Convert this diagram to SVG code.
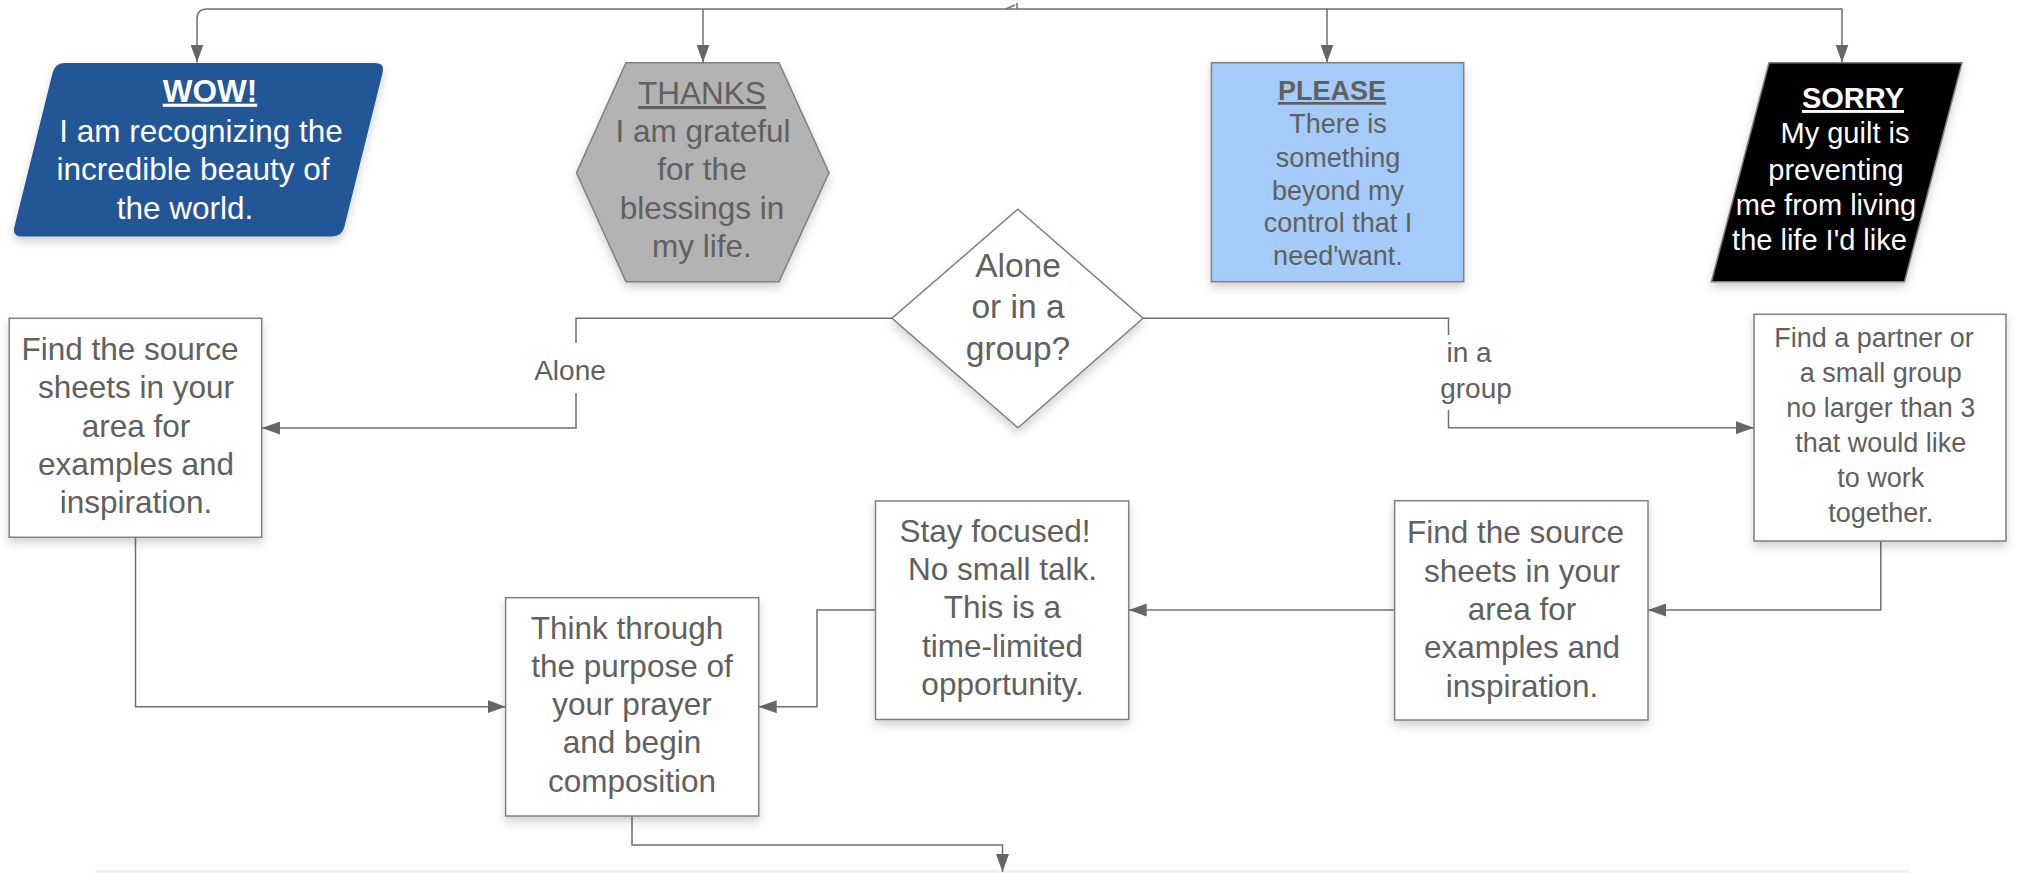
<svg xmlns="http://www.w3.org/2000/svg" width="2019" height="873" viewBox="0 0 2019 873">
<style>
  text { font-family: "Liberation Sans", Arial, sans-serif; text-anchor: middle; }
  .t { font-size: 31.5px; fill: #606060; }
  .w { font-size: 31.5px; fill: #ffffff; }
  .sm { font-size: 27px; fill: #606060; }
  .sw { font-size: 29px; fill: #ffffff; }
  .dia { font-size: 33.5px; fill: #606060; }
  .lbl { font-size: 28px; fill: #606060; }
  .b { font-weight: bold; text-decoration: underline; }
  .u { text-decoration: underline; }
  .box { fill: #ffffff; stroke: #7f7f7f; stroke-width: 1.5; }
  .conn { fill: none; stroke: #6f6f6f; stroke-width: 1.5; }
  .arr { fill: none; stroke: #6f6f6f; stroke-width: 1.5; marker-end: url(#ah); }
</style>
<defs>
  <marker id="ah" markerUnits="userSpaceOnUse" markerWidth="18" markerHeight="13" viewBox="0 0 18 13" refX="18" refY="6.5" orient="auto">
    <path d="M0,0 L18,6.5 L0,13 Z" fill="#666666"/>
  </marker>
  <filter id="sh" x="-20%" y="-20%" width="140%" height="150%">
    <feDropShadow dx="0" dy="5" stdDeviation="5" flood-color="#000" flood-opacity="0.18"/>
  </filter>
</defs>
<rect width="2019" height="873" fill="#ffffff"/>
<rect x="95" y="870" width="1815" height="3" fill="#f2f2f2"/>

<g id="connectors">
  <path class="conn" d="M1006,9 L1015,5 M1017,3 V9"/>
  <path class="arr" d="M1006,9 H207 Q197,9 197,19 V62.5"/>
  <path class="arr" d="M703,9 V62.5"/>
  <path class="arr" d="M1006,9 H1327 V62.5"/>
  <path class="arr" d="M1327,9 H1842 V62.5"/>
  <path class="conn" d="M892,318.3 H576 V343"/>
  <path class="arr" d="M576,393 V428 H262"/>
  <text class="lbl" x="570" y="380">Alone</text>
  <path class="conn" d="M1143,318.3 H1448.5 V335"/>
  <path class="arr" d="M1448.5,410 V427.7 H1754"/>
  <text class="lbl" x="1469" y="361.7">in a</text>
  <text class="lbl" x="1476" y="398.3">group</text>
  <path class="arr" d="M135.5,537.3 V706.7 H505.6"/>
  <path class="arr" d="M1880.8,541 V610 H1648"/>
  <path class="arr" d="M1394.6,610 H1128.7"/>
  <path class="arr" d="M875.5,610 H817 V706.7 H758.7"/>
  <path class="arr" d="M632,816 V845 H1002.5 V872"/>
</g>

<g id="node-wow">
  <path filter="url(#sh)" fill="#235797" d="M65,63 H375 Q385,63 382.6,72.7 L344.4,226.8 Q342,236.5 332,236.5 H22 Q12,236.5 14.4,226.8 L52.6,72.7 Q55,63 65,63 Z"/>
  <text class="w b" x="210" y="101.7">WOW!</text>
  <text class="w" x="201" y="141.5">I am recognizing the</text>
  <text class="w" x="193" y="180">incredible beauty of</text>
  <text class="w" x="185" y="218.5">the world.</text>
</g>

<g id="node-thanks">
  <polygon filter="url(#sh)" fill="#b3b3b3" stroke="#7f7f7f" stroke-width="1.5" points="626,62.7 779,62.7 829,172.7 779,281.7 626,281.7 576.5,172.7"/>
  <text class="t u" x="702" y="104">THANKS</text>
  <text class="t" x="703" y="141.7">I am grateful</text>
  <text class="t" x="702" y="180">for the</text>
  <text class="t" x="702" y="218.5">blessings in</text>
  <text class="t" x="702" y="257">my life.</text>
</g>

<g id="node-please">
  <rect filter="url(#sh)" x="1211.4" y="62.7" width="252.3" height="219" fill="#a4cbf9" stroke="#7f7f7f" stroke-width="1.5"/>
  <text class="sm b" x="1332" y="100">PLEASE</text>
  <text class="sm" x="1338" y="133">There is</text>
  <text class="sm" x="1338" y="166.5">something</text>
  <text class="sm" x="1338" y="199.5">beyond my</text>
  <text class="sm" x="1338" y="232">control that I</text>
  <text class="sm" x="1338" y="265">need'want.</text>
</g>

<g id="node-sorry">
  <polygon filter="url(#sh)" fill="#000000" stroke="#7f7f7f" stroke-width="1.5" points="1769,62.7 1962,62.7 1904.5,281.7 1711.4,281.7"/>
  <text class="sw b" x="1853" y="108">SORRY</text>
  <text class="sw" x="1845" y="143">My guilt is</text>
  <text class="sw" x="1836" y="180">preventing</text>
  <text class="sw" x="1826" y="215">me from living</text>
  <text class="sw" x="1819.5" y="250">the life I'd like</text>
</g>

<g id="node-decision">
  <polygon filter="url(#sh)" class="box" points="1017.8,209.3 1143,318.3 1018,427.7 892,318.3"/>
  <text class="dia" x="1018" y="276.7">Alone</text>
  <text class="dia" x="1018" y="318.3">or in a</text>
  <text class="dia" x="1018" y="360">group?</text>
</g>

<g id="node-source-left">
  <rect filter="url(#sh)" class="box" x="9.2" y="318.3" width="252.5" height="219"/>
  <text class="t" x="130" y="360">Find the source</text>
  <text class="t" x="136" y="398.3">sheets in your</text>
  <text class="t" x="136" y="436.7">area for</text>
  <text class="t" x="136" y="475">examples and</text>
  <text class="t" x="136" y="513.3">inspiration.</text>
</g>

<g id="node-partner">
  <rect filter="url(#sh)" class="box" x="1754" y="314.3" width="252" height="226.7"/>
  <text class="sm" x="1874" y="346.7">Find a partner or</text>
  <text class="sm" x="1880.8" y="381.7">a small group</text>
  <text class="sm" x="1880.8" y="416.7">no larger than 3</text>
  <text class="sm" x="1880.8" y="451.7">that would like</text>
  <text class="sm" x="1880.8" y="486.7">to work</text>
  <text class="sm" x="1880.8" y="521.7">together.</text>
</g>

<g id="node-source-right">
  <rect filter="url(#sh)" class="box" x="1394.6" y="500.7" width="253.4" height="219.3"/>
  <text class="t" x="1515.5" y="543.3">Find the source</text>
  <text class="t" x="1522" y="581.7">sheets in your</text>
  <text class="t" x="1522" y="620">area for</text>
  <text class="t" x="1522" y="658.3">examples and</text>
  <text class="t" x="1522" y="696.7">inspiration.</text>
</g>

<g id="node-focus">
  <rect filter="url(#sh)" class="box" x="875.5" y="501" width="253.2" height="218.5"/>
  <text class="t" x="995" y="541.7">Stay focused!</text>
  <text class="t" x="1002.5" y="580">No small talk.</text>
  <text class="t" x="1002.5" y="618.3">This is a</text>
  <text class="t" x="1002.5" y="656.7">time-limited</text>
  <text class="t" x="1002.5" y="695">opportunity.</text>
</g>

<g id="node-think">
  <rect filter="url(#sh)" class="box" x="505.6" y="597.7" width="253.1" height="218.3"/>
  <text class="t" x="627" y="639">Think through</text>
  <text class="t" x="632" y="676.7">the purpose of</text>
  <text class="t" x="632" y="715">your prayer</text>
  <text class="t" x="632" y="753.3">and begin</text>
  <text class="t" x="632" y="791.7">composition</text>
</g>
</svg>
